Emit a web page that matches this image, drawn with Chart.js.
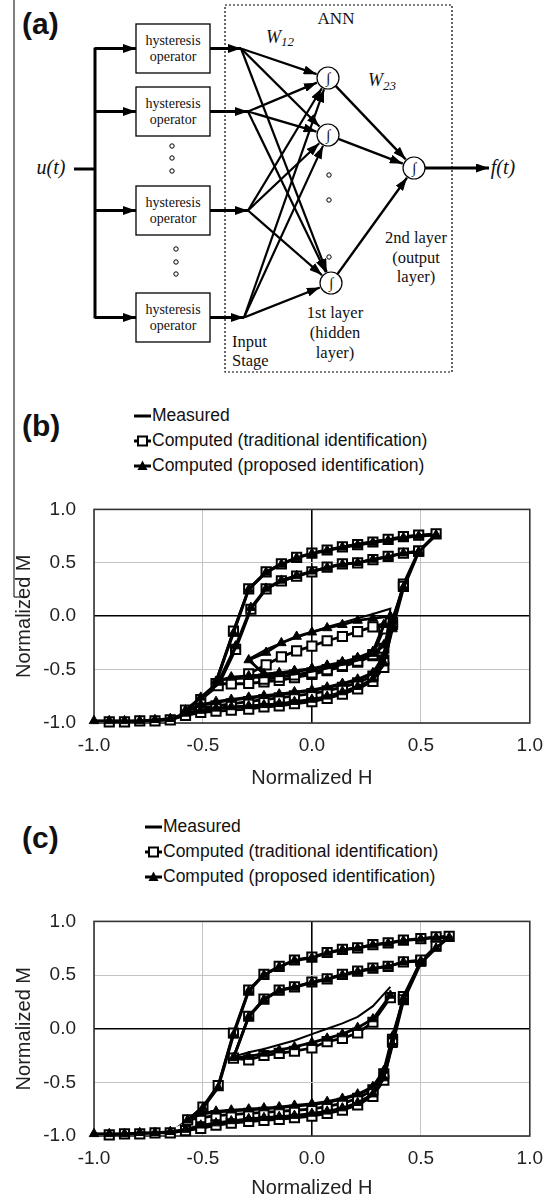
<!DOCTYPE html>
<html lang="en">
<head>
<meta charset="UTF-8" />
<title>ANN hysteresis model | identification results</title>
<script src="https://cdn.jsdelivr.net/npm/chart.js"></script>
<style>
  body { margin: 0; background: #fff; }
  #page { position: relative; width: 554px; height: 1200px; overflow: hidden; font-family: "Liberation Sans", Arial, sans-serif; color: #111; }
  .panel-label { position: absolute; left: 22px; font-weight: bold; font-size: 30px; line-height: 30px; }
  .legend { position: absolute; font-size: 17.5px; }
  .legend div { height: 25px; display: flex; align-items: center; white-space: nowrap; }
  .legend svg { margin-right: 1px; }
  canvas { position: absolute; left: 0; }
  #diagram { position: absolute; left: 0; top: 0; }
  #diagram text { font-family: "Liberation Serif", "Times New Roman", serif; fill: #111; }
</style>
</head>
<body>
<div id="page">
  <svg id="diagram" width="554" height="600"></svg>
  <div class="panel-label" style="top:9px">(a)</div>

  <div class="panel-label" style="top:411px">(b)</div>
  <div class="legend" id="legendB" style="left:134px; top:403px"></div>
  <canvas id="chartB" width="554" height="310" style="top:480px"></canvas>

  <div class="panel-label" style="top:823px">(c)</div>
  <div class="legend" id="legendC" style="left:145px; top:814px"></div>
  <canvas id="chartC" width="554" height="308" style="top:892px"></canvas>
</div>

<script>
// ---- data (normalized H / normalized M) ----
const seriesNames = ["Measured", "Computed (traditional identification)", "Computed (proposed identification)"];

// (b)
const bH = [
  -1.00,-0.93,-0.86,-0.79,-0.72,-0.65,-0.58,-0.51,-0.44,-0.37,-0.29,-0.22,-0.15,-0.08,0.00,0.07,0.14,0.21,0.28,0.33,0.37,0.42,0.49,0.57,
  0.49,0.42,0.35,0.28,0.21,0.14,0.07,0.00,-0.07,-0.14,-0.21,-0.29,-0.36,-0.44,
  -0.37,-0.29,-0.22,-0.15,-0.08,0.00,0.07,0.14,0.21,0.28,0.33,0.37,0.42,0.49,
  0.42,0.35,0.28,0.21,0.14,0.07,0.00,-0.07,-0.14,-0.21,-0.28,-0.35,-0.43,-0.51,-0.58,
  -0.51,-0.44,-0.37,-0.29,-0.22,-0.15,-0.08,0.00,0.07,0.14,0.21,0.28,0.33,0.36,
  0.28,0.21,0.14,0.07,0.00,-0.07,-0.14,-0.21,-0.29,
  -0.22,-0.15,-0.08,0.00,0.07,0.14,0.21,0.28,0.33
];
const bMeasured = [
  -0.98,-0.98,-0.98,-0.98,-0.97,-0.96,-0.92,-0.89,-0.87,-0.86,-0.85,-0.84,-0.83,-0.81,-0.79,-0.76,-0.72,-0.67,-0.60,-0.46,-0.05,0.28,0.60,0.76,
  0.76,0.74,0.72,0.70,0.68,0.65,0.62,0.59,0.55,0.49,0.42,0.26,-0.13,-0.60,
  -0.59,-0.58,-0.57,-0.56,-0.545,-0.52,-0.49,-0.455,-0.415,-0.36,-0.28,-0.02,0.29,0.60,
  0.59,0.56,0.535,0.505,0.485,0.455,0.415,0.37,0.325,0.255,0.07,-0.30,-0.64,-0.77,-0.88,
  -0.84,-0.81,-0.79,-0.77,-0.755,-0.74,-0.72,-0.70,-0.675,-0.64,-0.60,-0.54,-0.38,0.07,
  0.02,-0.02,-0.06,-0.10,-0.15,-0.20,-0.25,-0.31,-0.40,
  -0.55,-0.54,-0.52,-0.50,-0.47,-0.44,-0.40,-0.34,-0.10
];
const bTraditional = [
  null,-0.99,-0.99,-0.98,-0.98,-0.97,-0.93,-0.90,-0.89,-0.88,-0.87,-0.85,-0.84,-0.82,-0.80,-0.77,-0.73,-0.68,-0.61,-0.48,-0.08,0.30,0.61,0.77,
  0.76,0.745,0.72,0.695,0.67,0.65,0.62,0.59,0.55,0.49,0.415,0.255,-0.14,-0.63,
  -0.635,-0.63,-0.615,-0.60,-0.575,-0.545,-0.51,-0.47,-0.43,-0.37,-0.30,-0.06,0.28,0.61,
  0.59,0.56,0.53,0.50,0.49,0.46,0.415,0.375,0.33,0.255,0.065,-0.31,-0.65,-0.78,-0.88,
  -0.86,-0.84,-0.82,-0.80,-0.78,-0.765,-0.745,-0.725,-0.70,-0.665,-0.625,-0.56,-0.41,-0.06,
  -0.10,-0.145,-0.19,-0.23,-0.28,-0.325,-0.38,-0.455,-0.54,
  -0.59,-0.57,-0.55,-0.53,-0.50,-0.46,-0.42,-0.36,-0.12
];
const bProposed = [
  -0.98,-0.98,-0.98,-0.98,-0.97,-0.96,-0.91,-0.88,-0.86,-0.85,-0.84,-0.83,-0.82,-0.80,-0.78,-0.75,-0.71,-0.66,-0.59,-0.44,-0.12,0.26,0.60,0.76,
  0.75,0.735,0.71,0.69,0.665,0.645,0.615,0.585,0.545,0.485,0.41,0.25,-0.16,-0.61,
  -0.57,-0.56,-0.55,-0.54,-0.52,-0.49,-0.465,-0.43,-0.39,-0.35,-0.27,-0.04,0.27,0.60,
  0.59,0.555,0.53,0.50,0.485,0.455,0.42,0.38,0.335,0.26,0.08,-0.28,-0.62,-0.76,-0.88,
  -0.83,-0.80,-0.78,-0.76,-0.745,-0.73,-0.71,-0.69,-0.665,-0.63,-0.59,-0.53,-0.37,0.00,
  -0.02,-0.04,-0.08,-0.11,-0.15,-0.19,-0.25,-0.34,-0.41,
  -0.54,-0.53,-0.51,-0.49,-0.46,-0.43,-0.39,-0.33,-0.08
];

// (c)
const cH = [
  -1.00,-0.93,-0.86,-0.79,-0.72,-0.65,-0.58,-0.51,-0.44,-0.37,-0.29,-0.22,-0.15,-0.08,0.00,0.07,0.14,0.21,0.28,0.33,0.37,0.42,0.50,0.57,0.63,
  0.57,0.50,0.42,0.35,0.28,0.21,0.14,0.07,0.00,-0.08,-0.15,-0.22,-0.29,-0.36,-0.43,-0.50,-0.57,
  -0.51,-0.44,-0.37,-0.29,-0.22,-0.15,-0.08,0.00,0.07,0.14,0.21,0.28,0.33,0.37,0.42,0.50,
  0.42,0.35,0.28,0.21,0.14,0.07,0.00,-0.08,-0.15,-0.22,-0.29,-0.36,
  -0.29,-0.22,-0.15,-0.08,0.00,0.07,0.14,0.21,0.28,0.36
];
const cMeasured = [
  -0.98,-0.98,-0.98,-0.97,-0.97,-0.96,-0.94,-0.91,-0.89,-0.87,-0.85,-0.84,-0.83,-0.82,-0.80,-0.78,-0.75,-0.70,-0.62,-0.47,-0.10,0.30,0.62,0.76,0.85,
  0.85,0.84,0.82,0.80,0.78,0.755,0.735,0.705,0.665,0.635,0.575,0.50,0.36,-0.04,-0.52,-0.72,-0.85,
  -0.80,-0.78,-0.77,-0.76,-0.75,-0.74,-0.725,-0.71,-0.69,-0.66,-0.62,-0.55,-0.40,-0.08,0.28,0.63,
  0.62,0.585,0.565,0.535,0.505,0.465,0.435,0.39,0.36,0.28,0.12,-0.26,
  -0.22,-0.19,-0.15,-0.11,-0.05,0.00,0.05,0.11,0.21,0.39
];
const cTraditional = [
  null,-0.99,-0.98,-0.98,-0.97,-0.97,-0.95,-0.93,-0.90,-0.88,-0.865,-0.855,-0.845,-0.83,-0.815,-0.79,-0.76,-0.71,-0.63,-0.48,-0.12,0.30,0.63,0.77,0.86,
  0.855,0.84,0.826,0.80,0.783,0.754,0.739,0.71,0.667,0.64,0.58,0.507,0.36,-0.04,-0.53,-0.73,-0.85,
  -0.83,-0.81,-0.80,-0.79,-0.78,-0.77,-0.76,-0.75,-0.725,-0.695,-0.65,-0.57,-0.42,-0.10,0.27,0.64,
  0.623,0.58,0.565,0.536,0.507,0.464,0.435,0.39,0.36,0.275,0.116,-0.275,
  -0.29,-0.25,-0.23,-0.21,-0.18,-0.12,-0.09,-0.04,0.06,0.29
];
const cProposed = [
  -0.98,-0.98,-0.98,-0.97,-0.97,-0.96,-0.94,-0.90,-0.88,-0.86,-0.84,-0.83,-0.82,-0.81,-0.79,-0.77,-0.74,-0.69,-0.61,-0.46,-0.15,0.26,0.61,0.75,0.85,
  0.85,0.835,0.82,0.795,0.78,0.75,0.735,0.705,0.66,0.635,0.575,0.50,0.35,-0.06,-0.55,-0.74,-0.85,
  -0.79,-0.77,-0.76,-0.75,-0.74,-0.73,-0.715,-0.70,-0.68,-0.65,-0.61,-0.54,-0.39,-0.07,0.28,0.63,
  0.62,0.58,0.56,0.53,0.50,0.46,0.43,0.385,0.355,0.27,0.11,-0.27,
  -0.26,-0.23,-0.20,-0.17,-0.13,-0.09,-0.05,0.01,0.09,0.31
];

// ---- panel (a): block diagram ----
const NS = "http://www.w3.org/2000/svg";
const svg = document.getElementById("diagram");
function el(tag, attrs, text) {
  const e = document.createElementNS(NS, tag);
  for (const k in attrs) e.setAttribute(k, attrs[k]);
  if (text !== undefined) e.textContent = text;
  svg.appendChild(e);
  return e;
}
const defs = el("defs", {});
defs.innerHTML = '<marker id="ah" viewBox="0 0 13 9" markerWidth="13" markerHeight="9" refX="13" refY="4.5" orient="auto" markerUnits="userSpaceOnUse"><path d="M0,0 L13,4.5 L0,9 z" fill="#000"/></marker>';
function line(x1, y1, x2, y2, w, arrow) {
  const a = { x1, y1, x2, y2, stroke: "#000", "stroke-width": w };
  if (arrow) a["marker-end"] = "url(#ah)";
  return el("line", a);
}

line(14, 0, 14, 597, 1);
line(14, 597, 27, 597, 1);
el("rect", { x: 225, y: 5, width: 227, height: 367, fill: "none", stroke: "#000", "stroke-width": 1.2, "stroke-dasharray": "2,2" });

const boxTops = [24, 87, 186, 293];
const boxMid = boxTops.map(t => t + 24.5);
const junctions = [[241, boxMid[0]], [248, boxMid[1]], [248, boxMid[2]], [244, boxMid[3]]];
const hidden = [[328, 78], [328, 135], [331, 283]];
const outN = [414, 168];
const R = 11;

// input bus
line(74, 169, 96, 169, 3);
line(95, boxMid[0] - 1, 95, boxMid[3] + 1, 3);
boxMid.forEach(y => line(95, y, 136, y, 3, true));
boxTops.forEach(t => {
  el("rect", { x: 136, y: t, width: 74, height: 49, fill: "#fff", stroke: "#000", "stroke-width": 1.3 });
  el("text", { x: 173, y: t + 21, "text-anchor": "middle", "font-size": 14 }, "hysteresis");
  el("text", { x: 173, y: t + 37, "text-anchor": "middle", "font-size": 14 }, "operator");
});
junctions.forEach(([x, y]) => line(210, y, x, y, 3, true));

// weights W12: every input to every hidden neuron
junctions.forEach(([jx, jy]) => hidden.forEach(([nx, ny]) => {
  const d = Math.hypot(nx - jx, ny - jy);
  line(jx, jy, nx - (nx - jx) * (R + 1) / d, ny - (ny - jy) * (R + 1) / d, 2.2, true);
}));
// weights W23
hidden.forEach(([nx, ny]) => {
  const dx = outN[0] - nx, dy = outN[1] - ny, d = Math.hypot(dx, dy);
  line(nx + dx * R / d, ny + dy * R / d, outN[0] - dx * (R + 1) / d, outN[1] - dy * (R + 1) / d, 2.4, true);
});
line(outN[0] + R, 168, 489, 168, 3, true);

hidden.concat([outN]).forEach(([x, y]) => {
  el("circle", { cx: x, cy: y, r: R, fill: "#fff", stroke: "#000", "stroke-width": 1.2 });
  el("text", { x: x, y: y + 5, "text-anchor": "middle", "font-size": 15, "font-style": "italic" }, "\u222B");
});

// ellipsis dots
[[172, 146], [172, 158], [172, 171], [176, 249], [176, 262], [176, 274], [329, 175], [329, 200], [329, 257]]
  .forEach(([x, y]) => el("circle", { cx: x, cy: y, r: 2.2, fill: "#fff", stroke: "#000", "stroke-width": 1 }));

el("text", { x: 336, y: 24, "text-anchor": "middle", "font-size": 17 }, "ANN");
const w12 = el("text", { x: 266, y: 43, "font-size": 18, "font-style": "italic" });
w12.innerHTML = 'W<tspan font-size="13" dy="3">12</tspan>';
const w23 = el("text", { x: 368, y: 86, "font-size": 18, "font-style": "italic" });
w23.innerHTML = 'W<tspan font-size="13" dy="4">23</tspan>';
el("text", { x: 51, y: 174, "text-anchor": "middle", "font-size": 20, "font-style": "italic" }, "u(t)");
el("text", { x: 503, y: 174, "text-anchor": "middle", "font-size": 20, "font-style": "italic" }, "f(t)");
["2nd layer", "(output", "layer)"].forEach((t, i) =>
  el("text", { x: 416, y: 243 + i * 19.5, "text-anchor": "middle", "font-size": 16.5 }, t));
["1st layer", "(hidden", "layer)"].forEach((t, i) =>
  el("text", { x: 335, y: 318 + i * 20, "text-anchor": "middle", "font-size": 16.5 }, t));
el("text", { x: 232, y: 347, "font-size": 16.5 }, "Input");
el("text", { x: 232, y: 366, "font-size": 16.5 }, "Stage");

// ---- legends ----
const symbols = [
  '<svg width="17" height="14"><line x1="0" y1="7" x2="17" y2="7" stroke="#000" stroke-width="3"/></svg>',
  '<svg width="17" height="14"><line x1="0" y1="7" x2="17" y2="7" stroke="#000" stroke-width="3"/><rect x="4" y="2.5" width="9" height="9" fill="#fff" stroke="#000" stroke-width="2"/></svg>',
  '<svg width="17" height="14"><line x1="0" y1="7" x2="17" y2="7" stroke="#000" stroke-width="3"/><polygon points="8.5,1.5 13.5,11 3.5,11" fill="#000"/></svg>'
];
["legendB", "legendC"].forEach(id => {
  document.getElementById(id).innerHTML =
    seriesNames.map((n, i) => '<div>' + symbols[i] + '<span>' + n + '</span></div>').join("");
});

// ---- panels (b) and (c) ----
Chart.defaults.font.family = '"Liberation Sans", Arial, sans-serif';
Chart.defaults.color = "#222";

const frame = {
  id: "frame",
  beforeDatasetsDraw(chart) {
    const { ctx, chartArea: a } = chart;
    ctx.save();
    ctx.strokeStyle = "#333";
    ctx.lineWidth = 1.6;
    ctx.strokeRect(a.left, a.top, a.right - a.left, a.bottom - a.top);
    ctx.restore();
  }
};

const pts = (H, M) => H.map((h, i) => ({ x: h, y: M[i] }));
const grid = {
  color: c => (c.tick && c.tick.value === 0 ? "#000" : "#c4c4c4"),
  lineWidth: c => (c.tick && c.tick.value === 0 ? 1.6 : 1),
  drawTicks: false
};

function hysteresisChart(id, H, meas, trad, prop, xAxisHeight, xTitlePad) {
  new Chart(document.getElementById(id), {
    type: "scatter",
    data: {
      datasets: [
        { label: seriesNames[2], data: pts(H, prop), showLine: true, spanGaps: true, clip: false,
          borderColor: "#000", borderWidth: 2.8, pointStyle: "triangle", pointRadius: 5.5,
          pointBackgroundColor: "#000", pointBorderColor: "#000", pointBorderWidth: 1 },
        { label: seriesNames[0], data: pts(H, meas), showLine: true, spanGaps: true, clip: false,
          borderColor: "#000", borderWidth: 2, pointRadius: 0 },
        { label: seriesNames[1], data: pts(H, trad), showLine: true, spanGaps: true, clip: false,
          borderColor: "#000", borderWidth: 2.8, pointStyle: "rect", pointRadius: 6.5,
          pointBackgroundColor: "#fff", pointBorderColor: "#000", pointBorderWidth: 2 }
      ]
    },
    options: {
      responsive: false,
      animation: false,
      layout: { padding: { top: 13, right: 23, left: 0, bottom: 0 } },
      plugins: { legend: { display: false }, tooltip: { enabled: false } },
      scales: {
        x: {
          type: "linear", min: -1, max: 1,
          ticks: { stepSize: 0.5, padding: 11, font: { size: 19 }, callback: v => v.toFixed(1) },
          grid: grid,
          border: { display: false },
          title: { display: true, text: "Normalized H", font: { size: 20 }, padding: { top: xTitlePad, bottom: 0 } },
          afterFit: s => { s.height = xAxisHeight; }
        },
        y: {
          type: "linear", min: -1, max: 1,
          ticks: { stepSize: 0.5, padding: 18, font: { size: 19 }, callback: v => v.toFixed(1) },
          grid: grid,
          border: { display: false },
          title: { display: true, text: "Normalized M", font: { size: 20 }, padding: { top: 12, bottom: 0 } },
          afterFit: s => { s.width = 94; }
        }
      }
    },
    plugins: [frame]
  });
}

hysteresisChart("chartB", bH, bMeasured, bTraditional, bProposed, 67, 4);
hysteresisChart("chartC", cH, cMeasured, cTraditional, cProposed, 64, 3);
</script>
</body>
</html>
